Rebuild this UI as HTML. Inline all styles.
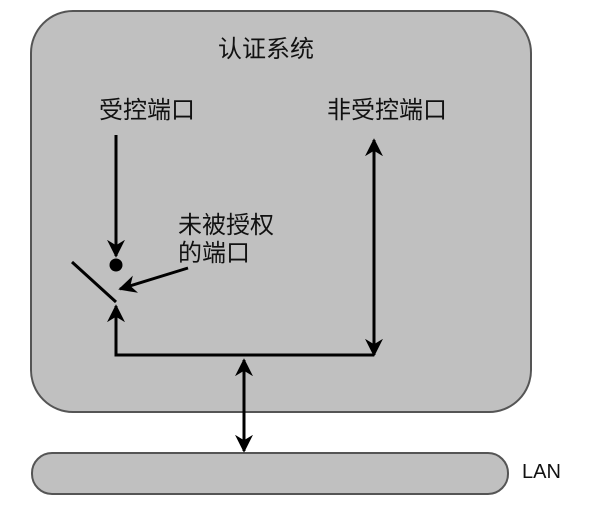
<!DOCTYPE html>
<html><head><meta charset="utf-8"><style>
body{margin:0;background:#fff;width:600px;height:517px;overflow:hidden}
text{font-family:"Liberation Sans","WenQuanYi Zen Hei","Noto Sans CJK SC",sans-serif;fill:#111}
</style></head><body>
<svg width="600" height="517" viewBox="0 0 600 517">
<defs><marker id="a" viewBox="0 0 10 10" refX="9" refY="5" markerWidth="6" markerHeight="6" orient="auto-start-reverse"><path d="M0,0 L10,5 L0,10 L3,5 z" fill="#000"/></marker></defs>
<rect x="31" y="11" width="500" height="401" rx="42" fill="#c0c0c0" stroke="#555" stroke-width="2"/>
<rect x="32" y="453" width="476" height="41" rx="20" fill="#c0c0c0" stroke="#555" stroke-width="2"/>
<text x="266" y="57" font-size="24" text-anchor="middle">认证系统</text>
<text x="147" y="118" font-size="24" text-anchor="middle">受控端口</text>
<text x="387" y="118" font-size="24" text-anchor="middle">非受控端口</text>
<text x="178" y="233" font-size="24">未被授权</text>
<text x="178" y="261" font-size="24">的端口</text>
<text x="522" y="478" font-size="20">LAN</text>
<g stroke="#000" stroke-width="3" fill="none">
<line x1="116" y1="135" x2="116" y2="256" marker-end="url(#a)"/>
<line x1="72" y1="262" x2="116" y2="302"/>
<polyline points="374,355 116,355 116,306" marker-end="url(#a)"/>
<line x1="374" y1="355" x2="374" y2="140" marker-start="url(#a)" marker-end="url(#a)"/>
<line x1="244" y1="360" x2="244" y2="451" marker-start="url(#a)" marker-end="url(#a)"/>
<line x1="188" y1="268" x2="120" y2="289" marker-end="url(#a)"/>
</g>
<circle cx="116" cy="265" r="6.5" fill="#000"/>
</svg>
</body></html>
